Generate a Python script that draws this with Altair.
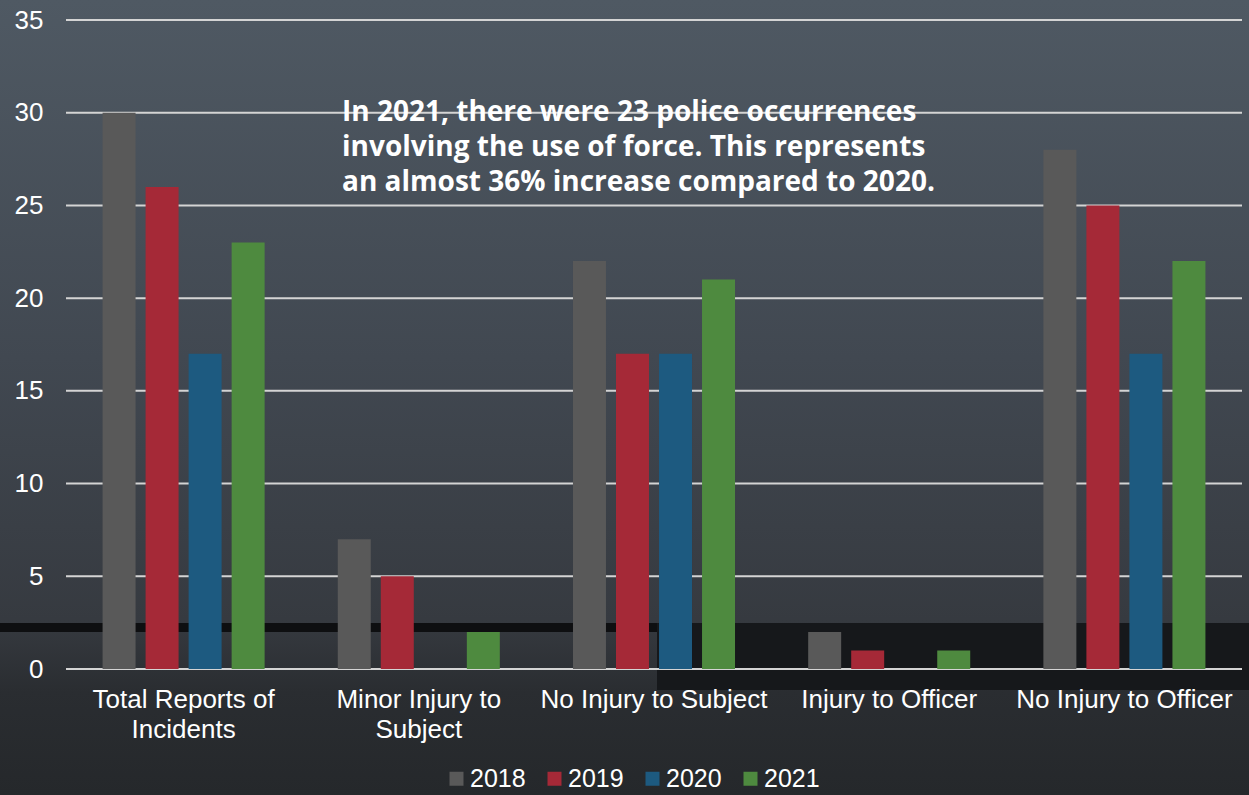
import altair as alt
import pandas as pd

categories = ["Total Reports of Incidents", "Minor Injury to Subject", "No Injury to Subject",
              "Injury to Officer", "No Injury to Officer"]
years = ["2018", "2019", "2020", "2021"]
v2018 = [30, 7, 22, 2, 28]
v2019 = [26, 5, 17, 1, 25]
v2020 = [17, 0, 17, 0, 17]
v2021 = [23, 2, 21, 1, 22]
colors = ["#595959", "#A52937", "#1D5A80", "#4E8A3F"]
y_ticks = [0, 5, 10, 15, 20, 25, 30, 35]
note_lines = ["In 2021, there were 23 police occurrences",
              "involving the use of force. This represents",
              "an almost 36% increase compared to 2020."]

series = [v2018, v2019, v2020, v2021]
rows = []
for i, c in enumerate(categories):
    for yr, vals in zip(years, series):
        rows.append({"category": c, "year": yr, "count": vals[i]})
df = pd.DataFrame(rows)
grid_df = pd.DataFrame({"v": y_ticks})
one = pd.DataFrame({"a": [0]})

W, H = 1176, 649
PL, PT, PR, PB = 66, 20, 7, 126

bg = alt.Chart(one).mark_rect(
    fill=alt.Gradient(
        gradient="linear", x1=0, x2=0, y1=0, y2=1,
        stops=[alt.GradientStop(color="#4f5963", offset=0),
               alt.GradientStop(color="#414851", offset=0.45),
               alt.GradientStop(color="#363a40", offset=0.78),
               alt.GradientStop(color="#2a2d31", offset=0.87),
               alt.GradientStop(color="#25282b", offset=1)]),
    strokeWidth=0,
).encode(x=alt.value(-PL), x2=alt.value(W + PR), y=alt.value(-PT), y2=alt.value(H + PB))

band = alt.Chart(one).mark_rect(color="#0e0f11").encode(
    x=alt.value(-PL), x2=alt.value(W + PR), y=alt.value(603), y2=alt.value(612))
block = alt.Chart(one).mark_rect(color="#16181b").encode(
    x=alt.value(591), x2=alt.value(W + PR), y=alt.value(603), y2=alt.value(670))

yaxis = alt.Axis(title=None, values=y_ticks, grid=False, domain=False, ticks=False,
                 labelColor="white", labelFont="Liberation Sans", labelFontSize=26,
                 labelPadding=23, zindex=2)

grid = alt.Chart(grid_df).mark_rule(color="#d4d4d4", strokeWidth=2).encode(
    x=alt.value(0), x2=alt.value(W),
    y=alt.Y("v:Q", scale=alt.Scale(domain=[0, 35]), axis=yaxis))

bars = alt.Chart(df).mark_bar().encode(
    x=alt.X("category:N", sort=categories,
            scale=alt.Scale(paddingInner=0.311, paddingOuter=0.1555),
            axis=alt.Axis(title=None, domain=False, ticks=False, labelAngle=0, zindex=2,
                          labelColor="white", labelFont="Liberation Sans", labelFontSize=26,
                          labelPadding=17, labelLineHeight=30, labelBaseline="top",
                          labelLimit=0, labelOverlap=False,
                          labelExpr="datum.value == 'Total Reports of Incidents' ? ['Total Reports of', 'Incidents'] : datum.value == 'Minor Injury to Subject' ? ['Minor Injury to', 'Subject'] : datum.value")),
    xOffset=alt.XOffset("year:N", sort=years, scale=alt.Scale(paddingInner=0.233, paddingOuter=0)),
    y=alt.Y("count:Q", scale=alt.Scale(domain=[0, 35]), axis=yaxis),
    color=alt.Color("year:N", sort=years, scale=alt.Scale(domain=years, range=colors),
                    legend=alt.Legend(title=None, orient="none", legendX=378, legendY=746,
                                      direction="horizontal", symbolType="square",
                                      symbolSize=196, symbolStrokeWidth=0,
                                      labelColor="white", labelFont="Liberation Sans",
                                      labelFontSize=25, labelOffset=1, columnPadding=16,
                                      padding=0, zindex=2)),
)

note = alt.Chart(one).mark_text(
    align="left", baseline="alphabetic", font="Open Sans", fontWeight="bold", fontSize=28,
    lineHeight=35, color="white", text=note_lines,
).encode(x=alt.value(276), y=alt.value(101))

chart = alt.layer(bg, band, block, grid, bars, note).properties(
    width=W, height=H,
    autosize=alt.AutoSizeParams(type="none"),
    padding={"left": PL, "top": PT, "right": PR, "bottom": PB},
).configure(background="#2a2d31").configure_view(stroke=None)

chart.save("out.html", embed_options={"renderer": "svg", "actions": False})
